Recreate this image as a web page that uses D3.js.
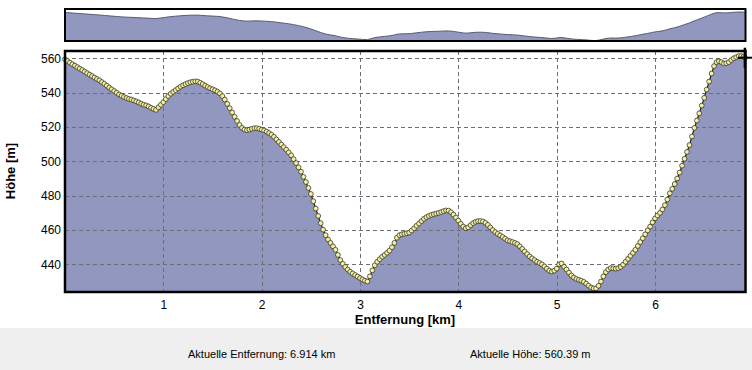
<!DOCTYPE html>
<html>
<head>
<meta charset="utf-8">
<script src="https://cdn.jsdelivr.net/npm/d3@7"></script>
<style>
    body { margin: 0; background: #ffffff; }
    svg { display: block; font-family: "Liberation Sans", Arial, sans-serif; }
</style>
</head>
<body>
<div id="div-chart"></div>
<script>
// profile: distance [km] and height [m]
var distKm = [
    0.000, 0.025, 0.050, 0.075, 0.100, 0.125, 0.150, 0.175, 0.200, 0.225,
    0.250, 0.275, 0.300, 0.325, 0.350, 0.375, 0.400, 0.425, 0.450, 0.475,
    0.500, 0.525, 0.550, 0.575, 0.600, 0.625, 0.650, 0.675, 0.700, 0.725,
    0.750, 0.775, 0.800, 0.825, 0.850, 0.875, 0.900, 0.925, 0.950, 0.975,
    1.000, 1.025, 1.050, 1.075, 1.100, 1.125, 1.150, 1.175, 1.200, 1.225,
    1.250, 1.275, 1.300, 1.325, 1.350, 1.375, 1.400, 1.425, 1.450, 1.475,
    1.500, 1.525, 1.550, 1.575, 1.600, 1.625, 1.650, 1.675, 1.700, 1.725,
    1.750, 1.775, 1.800, 1.825, 1.850, 1.875, 1.900, 1.925, 1.950, 1.975,
    2.000, 2.025, 2.050, 2.075, 2.100, 2.125, 2.150, 2.175, 2.200, 2.225,
    2.250, 2.275, 2.300, 2.325, 2.350, 2.375, 2.400, 2.425, 2.450, 2.475,
    2.500, 2.525, 2.550, 2.575, 2.600, 2.625, 2.650, 2.675, 2.700, 2.725,
    2.750, 2.775, 2.800, 2.825, 2.850, 2.875, 2.900, 2.925, 2.950, 2.975,
    3.000, 3.025, 3.050, 3.075, 3.100, 3.125, 3.150, 3.175, 3.200, 3.225,
    3.250, 3.275, 3.300, 3.325, 3.350, 3.375, 3.400, 3.425, 3.450, 3.475,
    3.500, 3.525, 3.550, 3.575, 3.600, 3.625, 3.650, 3.675, 3.700, 3.725,
    3.750, 3.775, 3.800, 3.825, 3.850, 3.875, 3.900, 3.925, 3.950, 3.975,
    4.000, 4.025, 4.050, 4.075, 4.100, 4.125, 4.150, 4.175, 4.200, 4.225,
    4.250, 4.275, 4.300, 4.325, 4.350, 4.375, 4.400, 4.425, 4.450, 4.475,
    4.500, 4.525, 4.550, 4.575, 4.600, 4.625, 4.650, 4.675, 4.700, 4.725,
    4.750, 4.775, 4.800, 4.825, 4.850, 4.875, 4.900, 4.925, 4.950, 4.975,
    5.000, 5.025, 5.050, 5.075, 5.100, 5.125, 5.150, 5.175, 5.200, 5.225,
    5.250, 5.275, 5.300, 5.325, 5.350, 5.375, 5.400, 5.425, 5.450, 5.475,
    5.500, 5.525, 5.550, 5.575, 5.600, 5.625, 5.650, 5.675, 5.700, 5.725,
    5.750, 5.775, 5.800, 5.825, 5.850, 5.875, 5.900, 5.925, 5.950, 5.975,
    6.000, 6.025, 6.050, 6.075, 6.100, 6.125, 6.150, 6.175, 6.200, 6.225,
    6.250, 6.275, 6.300, 6.325, 6.350, 6.375, 6.400, 6.425, 6.450, 6.475,
    6.500, 6.525, 6.550, 6.575, 6.600, 6.625, 6.650, 6.675, 6.700, 6.725,
    6.750, 6.775, 6.800, 6.825, 6.850, 6.875, 6.900, 6.914
];
var heightM = [
    559.5, 558.5, 557.5, 556.6, 555.8, 554.9, 554.0, 553.2, 552.3, 551.4,
    550.5, 549.7, 548.8, 548.0, 547.2, 546.2, 545.2, 544.1, 543.0, 542.0,
    541.0, 540.0, 539.0, 538.2, 537.5, 536.9, 536.4, 536.0, 535.5, 534.9,
    534.3, 533.6, 533.0, 532.6, 532.0, 531.2, 530.6, 530.0, 531.5, 533.0,
    534.5, 536.3, 538.0, 539.4, 540.5, 541.5, 542.5, 543.5, 544.3, 545.0,
    545.6, 546.1, 546.4, 546.6, 546.5, 545.8, 545.0, 544.1, 543.3, 542.6,
    542.0, 541.4, 540.6, 539.6, 538.0, 536.0, 533.5, 531.0, 528.5, 526.0,
    523.5, 521.2, 519.5, 518.5, 518.2, 518.5, 519.0, 519.3, 519.3, 519.0,
    518.5, 518.0, 517.3, 516.5, 515.5, 514.3, 512.8, 511.3, 509.8, 508.3,
    506.8, 505.2, 503.5, 501.3, 499.0, 496.5, 494.0, 491.0, 488.0, 484.5,
    481.0, 476.8, 472.5, 468.2, 464.0, 460.2, 457.0, 454.5, 452.5, 450.5,
    448.5, 445.5, 442.5, 440.3, 438.5, 437.0, 435.7, 434.7, 433.8, 432.9,
    432.0, 431.2, 430.5, 430.0, 433.0, 436.5, 439.5, 441.5, 443.0, 444.4,
    445.5, 446.7, 448.0, 450.0, 452.5, 455.5, 457.0, 457.5, 457.8, 458.1,
    458.5, 459.7, 461.0, 462.5, 463.8, 465.2, 466.5, 467.5, 468.2, 468.8,
    469.2, 469.6, 470.0, 470.5, 471.0, 471.4, 471.3, 470.4, 469.0, 467.3,
    465.5, 463.6, 462.0, 461.0, 461.5, 462.8, 464.0, 464.8, 465.2, 465.2,
    465.0, 464.2, 463.0, 461.5, 460.0, 458.8, 457.8, 456.9, 456.0, 455.0,
    454.0, 453.5, 453.0, 452.5, 451.8, 450.5, 449.0, 447.5, 446.0, 444.6,
    443.5, 442.5, 441.5, 440.8, 440.0, 438.8, 437.5, 436.3, 435.8, 436.3,
    437.5, 440.0, 440.5, 438.6, 437.0, 435.2, 433.5, 432.3, 431.5, 431.0,
    430.5, 429.8, 428.8, 427.6, 426.5, 426.0, 426.0, 427.5, 430.0, 433.0,
    435.5, 437.0, 437.8, 437.7, 437.5, 437.8, 438.5, 439.8, 441.5, 443.2,
    445.0, 446.7, 448.5, 450.7, 453.0, 455.2, 457.5, 459.8, 462.0, 464.5,
    466.8, 468.5, 470.0, 472.0, 474.5, 477.8, 481.4, 484.0, 486.8, 490.0,
    493.5, 497.5, 501.5, 505.5, 509.5, 514.5, 519.5, 523.8, 528.0, 532.5,
    537.0, 541.8, 546.5, 551.2, 555.5, 557.8, 558.3, 557.8, 557.0, 557.2,
    557.8, 559.0, 560.0, 560.7, 561.3, 561.4, 561.0, 560.39
];
var xTicks = [1, 2, 3, 4, 5, 6];
var yTicks = [440, 460, 480, 500, 520, 540, 560];
var xLabel = "Entfernung [km]";
var yLabel = "Höhe [m]";
var currentDist = 6.914;
var currentHeight = 560.39;

var width = 752;
var height = 370;

var plotLeft = 65, plotRight = 745.5, plotTop = 51, plotBottom = 292;
var ovTop = 9, ovBottom = 41;

var fillColor = "#9297bf";

function drawChart() {
    var profile = distKm.map(function (d, i) { return { km: d, m: heightM[i] }; });

    var svg = d3.select("#div-chart").append("svg")
        .attr("width", width)
        .attr("height", height);

    var x = d3.scaleLinear().domain([0, 6.92]).range([plotLeft, plotRight]);
    var y = d3.scaleLinear().domain([423.9, 564.3]).range([plotBottom, plotTop]);

    // overview strip on top
    var yOv = d3.scaleLinear()
        .domain([d3.min(heightM), d3.max(heightM)])
        .range([ovBottom - 0.5, ovTop + 3]);

    var ovArea = d3.area()
        .x(d => x(d.km))
        .y0(ovBottom)
        .y1(d => yOv(d.m));
    var ovLine = d3.line()
        .x(d => x(d.km))
        .y(d => yOv(d.m));

    svg.append("path")
        .datum(profile)
        .attr("d", ovArea)
        .style("fill", fillColor);
    svg.append("path")
        .datum(profile)
        .attr("d", ovLine)
        .style("fill", "none")
        .style("stroke", "#555a70")
        .style("stroke-width", 1);
    svg.append("rect")
        .attr("x", plotLeft)
        .attr("y", ovTop)
        .attr("width", plotRight - plotLeft)
        .attr("height", ovBottom - ovTop)
        .style("fill", "none")
        .style("stroke", "#000")
        .style("stroke-width", 2);

    // main profile
    svg.append("defs").append("clipPath")
        .attr("id", "clip-plot")
        .append("rect")
        .attr("x", plotLeft)
        .attr("y", plotTop)
        .attr("width", plotRight - plotLeft)
        .attr("height", plotBottom - plotTop);

    var area = d3.area()
        .x(d => x(d.km))
        .y0(plotBottom)
        .y1(d => y(d.m));

    svg.append("path")
        .datum(profile)
        .attr("d", area)
        .attr("clip-path", "url(#clip-plot)")
        .style("fill", fillColor);

    // dashed grid over the fill
    var grid = svg.append("g")
        .style("stroke", "#6e6e78")
        .style("stroke-width", 1)
        .style("stroke-dasharray", "4,3");
    grid.selectAll(".gx").data(xTicks).enter().append("line")
        .attr("x1", d => Math.round(x(d)) + 0.5)
        .attr("x2", d => Math.round(x(d)) + 0.5)
        .attr("y1", plotTop)
        .attr("y2", plotBottom);
    grid.selectAll(".gy").data(yTicks).enter().append("line")
        .attr("x1", plotLeft)
        .attr("x2", plotRight)
        .attr("y1", d => Math.round(y(d)) + 0.5)
        .attr("y2", d => Math.round(y(d)) + 0.5);

    var line = d3.line()
        .x(d => x(d.km))
        .y(d => y(d.m));
    svg.append("path")
        .datum(profile)
        .attr("d", line)
        .style("fill", "none")
        .style("stroke", "#222")
        .style("stroke-width", 1.2);

    svg.selectAll(".marker").data(profile).enter().append("circle")
        .attr("cx", d => x(d.km))
        .attr("cy", d => y(d.m))
        .attr("r", 2.4)
        .style("fill", "#f4f0a2")
        .style("stroke", "#3a3a2a")
        .style("stroke-width", 0.8);

    svg.append("rect")
        .attr("x", plotLeft)
        .attr("y", plotTop)
        .attr("width", plotRight - plotLeft)
        .attr("height", plotBottom - plotTop)
        .style("fill", "none")
        .style("stroke", "#000")
        .style("stroke-width", 2.5);

    // cross at the current position
    var cx = x(currentDist), cy = y(currentHeight);
    svg.append("line")
        .attr("x1", cx).attr("x2", cx)
        .attr("y1", cy - 10).attr("y2", cy + 10)
        .style("stroke", "#000").style("stroke-width", 2.5);
    svg.append("line")
        .attr("x1", cx - 7).attr("x2", cx + 8)
        .attr("y1", cy).attr("y2", cy)
        .style("stroke", "#000").style("stroke-width", 2);

    // axes
    var xAxis = d3.axisBottom(x).tickValues(xTicks).tickFormat(d3.format("d"))
        .tickSize(0).tickPadding(8);
    var gx = svg.append("g")
        .attr("transform", "translate(0," + plotBottom + ")")
        .call(xAxis);
    gx.select(".domain").remove();
    gx.selectAll("text")
        .style("font-family", "'Liberation Sans', Arial, sans-serif")
        .style("font-size", "12px")
        .style("fill", "#000");

    var yAxis = d3.axisLeft(y).tickValues(yTicks).tickSize(0).tickPadding(4);
    var gy = svg.append("g")
        .attr("transform", "translate(" + plotLeft + ",0)")
        .call(yAxis);
    gy.select(".domain").remove();
    gy.selectAll("text")
        .style("font-family", "'Liberation Sans', Arial, sans-serif")
        .style("font-size", "12px")
        .style("fill", "#000");

    svg.append("text")
        .attr("x", 405)
        .attr("y", 324)
        .attr("text-anchor", "middle")
        .style("font-size", "13px")
        .style("font-weight", "bold")
        .text(xLabel);

    svg.append("text")
        .attr("transform", "translate(15,171) rotate(-90)")
        .attr("text-anchor", "middle")
        .style("font-size", "13px")
        .style("font-weight", "bold")
        .text(yLabel);

    // status bar
    svg.append("rect")
        .attr("x", 0)
        .attr("y", 328)
        .attr("width", width)
        .attr("height", height - 328)
        .style("fill", "#efefef");

    svg.append("text")
        .attr("x", 188)
        .attr("y", 358)
        .style("font-size", "11px")
        .text("Aktuelle Entfernung: " + currentDist.toFixed(3) + " km");

    svg.append("text")
        .attr("x", 470)
        .attr("y", 358)
        .style("font-size", "11px")
        .text("Aktuelle Höhe: " + currentHeight.toFixed(2) + " m");
}

drawChart();
</script>
</body>
</html>
